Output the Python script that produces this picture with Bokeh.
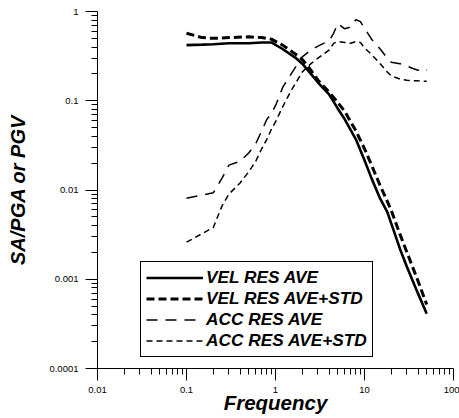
from bokeh.plotting import figure
from bokeh.models import Range1d, FixedTicker, CustomJSTickFormatter, Legend, LegendItem
from bokeh.embed import file_html
from bokeh.resources import INLINE

# ---- data ----
vel_freq = [0.1, 0.15, 0.2, 0.3, 0.5, 0.7, 0.9, 1.2, 1.7, 2.0, 2.5, 3.0, 4.0, 5.0, 6.0,
            8.0, 10, 12, 15, 18, 20, 25, 30, 40, 50]
vel_res_ave = [0.42, 0.425, 0.43, 0.44, 0.44, 0.45, 0.45, 0.38, 0.30, 0.26, 0.20, 0.16,
               0.118, 0.082, 0.062, 0.037, 0.0215, 0.0135, 0.008, 0.0057, 0.0042,
               0.0022, 0.00137, 0.00069, 0.00041]
vel_res_ave_std = [0.57, 0.51, 0.50, 0.51, 0.52, 0.51, 0.49, 0.42, 0.33, 0.29, 0.22, 0.17,
                   0.125, 0.096, 0.076, 0.046, 0.029, 0.019, 0.0112, 0.0075, 0.0059,
                   0.0032, 0.0020, 0.00095, 0.00052]

acc_freq = [0.1, 0.2, 0.25, 0.3, 0.4, 0.5, 0.6, 0.7, 0.8, 0.9, 1.0, 1.2, 1.5, 2.0, 2.5,
            3.0, 4.0, 4.5, 5.0, 6.0, 7.0, 8.0, 9.0, 10, 12, 15, 18, 20, 25, 30, 35, 40,
            45, 50]
acc_res_ave = [0.0081, 0.0093, 0.0135, 0.019, 0.021, 0.026, 0.033, 0.046, 0.062, 0.072,
               0.088, 0.14, 0.20, 0.31, 0.37, 0.41, 0.47, 0.57, 0.73, 0.64, 0.67, 0.81,
               0.77, 0.65, 0.49, 0.38, 0.30, 0.27, 0.26, 0.245, 0.23, 0.22, 0.23, 0.22]
acc_res_ave_std = [0.0026, 0.0038, 0.0066, 0.0090, 0.012, 0.016, 0.021, 0.029, 0.037,
                   0.048, 0.058, 0.085, 0.13, 0.21, 0.26, 0.30, 0.37, 0.44, 0.46, 0.45,
                   0.44, 0.46, 0.45, 0.39, 0.33, 0.26, 0.21, 0.19, 0.175, 0.17, 0.168,
                   0.167, 0.165, 0.165]

series_labels = ["VEL RES AVE", "VEL RES AVE+STD", "ACC RES AVE", "ACC RES AVE+STD"]
x_title = "Frequency"
y_title = "SA/PGA or PGV"
x_major_exp = [-2, -1, 0, 1, 2]
y_major_exp = [-4, -3, -2, -1, 0]

FONT = "Liberation Sans"

p = figure(width=459, height=418, x_axis_type="log", y_axis_type="log",
           x_range=Range1d(0.01, 100), y_range=Range1d(1e-4, 1),
           output_backend="svg", toolbar_location=None,
           min_border_left=97, min_border_right=6, min_border_top=11,
           min_border_bottom=50)
p.outline_line_color = None
p.grid.visible = False
p.background_fill_color = "white"
p.border_fill_color = "white"

r1 = p.line(vel_freq, vel_res_ave, line_color="black", line_width=2.6)
r2 = p.line(vel_freq, vel_res_ave_std, line_color="black", line_width=3,
            line_dash="8 4")
r3 = p.line(acc_freq, acc_res_ave, line_color="black", line_width=1.5,
            line_dash="11 8")
r4 = p.line(acc_freq, acc_res_ave_std, line_color="black", line_width=1.5,
            line_dash="6 4")

xt = [10.0 ** k for k in x_major_exp]
xm = [m * 10.0 ** k for k in x_major_exp[:-1] for m in range(2, 10)]
yt = [10.0 ** k for k in y_major_exp]
ym = [m * 10.0 ** k for k in y_major_exp[:-1] for m in range(2, 10)]
p.xaxis.ticker = FixedTicker(ticks=xt, minor_ticks=xm)
p.yaxis.ticker = FixedTicker(ticks=yt, minor_ticks=ym)

fmt = CustomJSTickFormatter(code="return Number(tick.toPrecision(6)).toString();")
for ax in (p.xaxis[0], p.yaxis[0]):
    ax.formatter = fmt
    ax.axis_line_color = "black"
    ax.axis_line_width = 1
    ax.major_tick_line_color = "black"
    ax.minor_tick_line_color = "black"
    ax.major_tick_in = 0
    ax.minor_tick_in = 0
    ax.major_tick_out = 12
    ax.minor_tick_out = 6
    ax.major_label_text_font = FONT
    ax.major_label_text_font_size = "9.5px"
    ax.major_label_text_color = "black"
    ax.axis_label_text_font = FONT
    ax.axis_label_text_font_style = "bold italic"
    ax.axis_label_text_color = "black"

p.xaxis.axis_label = x_title
p.xaxis.axis_label_text_font_size = "20.5px"
p.xaxis.major_label_standoff = 6
p.xaxis.axis_label_standoff = -5

p.yaxis.axis_label = y_title
p.yaxis.axis_label_text_font_size = "20px"
p.yaxis.major_label_standoff = 7
p.yaxis.axis_label_standoff = 17

legend = Legend(items=[LegendItem(label=series_labels[0], renderers=[r1]),
                       LegendItem(label=series_labels[1], renderers=[r2]),
                       LegendItem(label=series_labels[2], renderers=[r3]),
                       LegendItem(label=series_labels[3], renderers=[r4])],
                location=(43, 11))
legend.border_line_color = "black"
legend.border_line_width = 1
legend.border_line_alpha = 1
legend.background_fill_color = "white"
legend.background_fill_alpha = 1
legend.label_text_font = FONT
legend.label_text_font_style = "bold italic"
legend.label_text_font_size = "17.3px"
legend.label_text_color = "black"
legend.glyph_width = 57
legend.glyph_height = 21
legend.label_height = 21
legend.label_standoff = 3
legend.padding = 5
legend.spacing = 0
legend.margin = 0
p.add_layout(legend)

open("out.html", "w").write(file_html(p, INLINE))
